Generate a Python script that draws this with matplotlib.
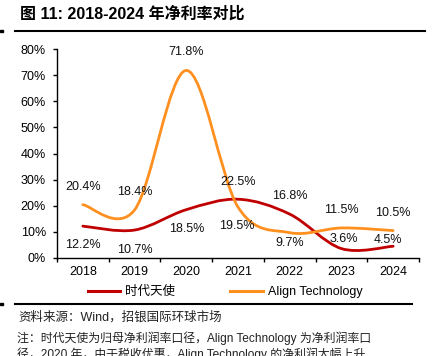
import numpy as np
import matplotlib
matplotlib.use('Agg')
import matplotlib.pyplot as plt
from matplotlib.path import Path
from matplotlib.patches import PathPatch, Rectangle
from matplotlib.lines import Line2D

# ---------------- data ----------------
years = ['2018', '2019', '2020', '2021', '2022', '2023', '2024']
angelalign = [12.2, 10.7, 18.5, 22.5, 16.8, 3.6, 4.5]     # 时代天使
align_tech = [20.4, 18.4, 71.8, 19.5, 9.7, 11.5, 10.5]    # Align Technology
series_names = ['时代天使', 'Align Technology']
y_ticks = [0, 10, 20, 30, 40, 50, 60, 70, 80]

# label offsets in pixels (dx, dy), style only
off_red = [(0, -19), (0, -20), (0, -19), (0, 17), (0, 18), (2, 10), (-5, 6)]
off_org = [(0, 18), (0, 18), (0, 18), (-1, -19), (0, -10), (0, 18), (0, 18)]

RED = '#C00000'
ORANGE = '#FF9020'
LAT = ['Liberation Sans', 'Noto Sans CJK SC']
W, H = 432, 356

fig = plt.figure(figsize=(W / 100, H / 100), dpi=100)
ax = fig.add_axes([57 / W, 1 - 258 / H, (419 - 57) / W, (258 - 49) / H])


def smooth_path(xs, ys):
    n = len(xs)
    verts = [(xs[0], ys[0])]
    codes = [Path.MOVETO]
    for i in range(n - 1):
        a = i - 1 if i > 0 else i
        d = i + 2 if i + 2 < n else i + 1
        c1 = (xs[i] + (xs[i + 1] - xs[a]) / 6, ys[i] + (ys[i + 1] - ys[a]) / 6)
        c2 = (xs[i + 1] - (xs[d] - xs[i]) / 6, ys[i + 1] - (ys[d] - ys[i]) / 6)
        verts += [c1, c2, (xs[i + 1], ys[i + 1])]
        codes += [Path.CURVE4] * 3
    return Path(verts, codes)


x = np.arange(len(years))
for vals, col, offs in [(angelalign, RED, off_red), (align_tech, ORANGE, off_org)]:
    ax.add_patch(PathPatch(smooth_path(list(x), list(vals)), fill=False,
                           edgecolor=col, lw=2.0, capstyle='round', joinstyle='round'))
    for xi, v, (dx, dy) in zip(x, vals, offs):
        ax.annotate(f'{v}%', (xi, v), xytext=(dx, dy), textcoords='offset pixels',
                    ha='center', va='center', fontsize=9, family=LAT, color='#111111')

ax.set_xlim(-0.5, len(years) - 0.5)
ax.set_ylim(0, 80)
for s in ['top', 'right']:
    ax.spines[s].set_visible(False)
for s in ['left', 'bottom']:
    ax.spines[s].set_linewidth(1.0)
ax.set_xticks(x)
ax.set_xticklabels(years, fontsize=9, family=LAT)
ax.set_xticks(np.arange(-0.5, len(years), 1.0), minor=True)
ax.tick_params(axis='x', which='major', length=0, pad=6)
ax.tick_params(axis='x', which='minor', length=3, direction='out', width=1)
ax.set_yticks(y_ticks)
ax.set_yticklabels([f'{t}%' for t in y_ticks], fontsize=9, family=LAT)
ax.tick_params(axis='y', length=3, width=1, pad=5)

# legend
handles = [Line2D([], [], color=RED, lw=2.2), Line2D([], [], color=ORANGE, lw=2.2)]
fig.legend(handles, series_names, loc='center', bbox_to_anchor=(225 / W, 1 - 292 / H),
           ncol=2, frameon=False, prop={'family': LAT, 'size': 9},
           handlelength=2.6, handletextpad=0.4, columnspacing=4.4)

# title and rules
fig.text(20 / W, 1 - 14 / H, '图 11: 2018-2024 年净利率对比', fontsize=11.5,
         fontweight='bold', family=LAT, va='center', ha='left')
fig.add_artist(Line2D([15 / W, 425 / W], [1 - 31 / H] * 2, color='black', lw=1.5))
fig.add_artist(Line2D([15 / W, 412 / W], [1 - 304 / H] * 2, color='black', lw=1.5))
for yy in (31, 304):
    fig.add_artist(Rectangle((0, 1 - (yy + 1) / H), 3 / W, 2 / H, color='black',
                             transform=fig.transFigure))

# footer text
fig.text(18 / W, 1 - 317 / H, '资料来源：Wind，招银国际环球市场', fontsize=9,
         family=LAT, va='center', ha='left', color='#222222')
fig.text(17 / W, 1 - 342 / H,
         '注：时代天使为归母净利润率口径，Align Technology 为净利润率口',
         fontsize=8.6, family=LAT, va='baseline', ha='left', color='#222222')
fig.text(17 / W, 1 - 358 / H,
         '径，2020 年，由于税收优惠，Align Technology 的净利润大幅上升',
         fontsize=8.6, family=LAT, va='baseline', ha='left', color='#222222')

fig.savefig('out.png', dpi=100)
